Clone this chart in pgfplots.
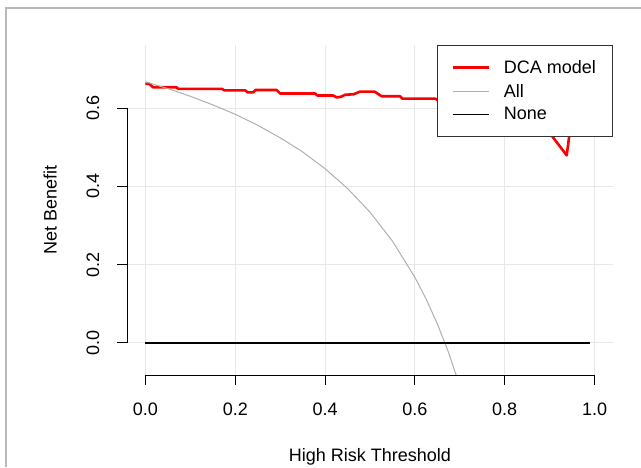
\documentclass[border=0pt]{standalone}
\usepackage{fontspec}
\setmainfont{Liberation Sans}
\usepackage{pgfplots}
\pgfplotsset{compat=1.18}
\definecolor{allgray}{RGB}{175,175,175}
\definecolor{gridgray}{RGB}{232,232,232}
\definecolor{framegray}{RGB}{185,185,185}
\definecolor{dcared}{RGB}{250,0,0}
\begin{document}
\begin{tikzpicture}
\useasboundingbox (0,0) rectangle (641pt,467pt);
\draw[framegray, line width=1.2pt] (6pt,0pt) -- (6pt,459pt) -- (641pt,459pt);
\begin{axis}[
  at={(127.5pt,92pt)}, anchor=south west,
  scale only axis, width=485pt, height=330pt,
  xmin=-0.04, xmax=1.04, ymin=-0.082, ymax=0.761,
  clip=false,
  axis x line*=bottom, axis y line*=left,
  axis line style={draw=none},
  tick align=outside, major tick length=10pt,
  tick style={draw=none},
  xtick={0,0.2,0.4,0.6,0.8,1.0},
  xticklabels={0.0,0.2,0.4,0.6,0.8,1.0},
  ytick={0,0.2,0.4,0.6},
  yticklabels={0.0,0.2,0.4,0.6},
  grid=major, grid style={draw=gridgray, line width=1pt},
  every tick label/.append style={font=\fontsize{18}{21}\selectfont, inner sep=0pt},
  xticklabel style={anchor=north, yshift=-18pt},
  yticklabel style={xshift=-18pt, rotate=90, anchor=south},
  xlabel={High Risk Threshold},
  ylabel={Net Benefit},
  every axis x label/.style={at={(axis description cs:0.5,-0.2606)}, anchor=base, font=\fontsize{18}{21}\selectfont},
  every axis y label/.style={at={(axis description cs:-0.146,0.5)}, rotate=90, anchor=base, font=\fontsize{18}{21}\selectfont},
  legend cell align=left,
  legend image code/.code={\draw[#1] (0pt,0pt) -- (36pt,0pt);},
  legend style={at={(rel axis cs:1,1)}, anchor=north east, draw=black!80, line width=1pt, fill=white,
    font=\fontsize{18}{21}\selectfont, inner xsep=14pt, inner ysep=13pt, row sep=5pt,
    /tikz/every odd column/.append style={column sep=12pt}},
]
\addplot[dcared, line width=2.6pt, line join=round] coordinates {
(0,0.662) (0.008,0.662) (0.017,0.653) (0.069,0.653) (0.073,0.649) (0.170,0.649)
(0.176,0.645) (0.222,0.645) (0.228,0.640) (0.240,0.640) (0.245,0.646) (0.292,0.646)
(0.300,0.637) (0.378,0.637) (0.383,0.632) (0.418,0.632) (0.426,0.627) (0.436,0.629)
(0.445,0.634) (0.463,0.635) (0.478,0.642) (0.510,0.642) (0.526,0.630) (0.567,0.630)
(0.572,0.624) (0.645,0.624) (0.652,0.619) (0.70,0.612) (0.75,0.605) (0.80,0.595)
(0.85,0.580) (0.88,0.560) (0.901,0.535) (0.938,0.479) (0.945,0.540) (0.95,0.580)
};
\addlegendentry{DCA model}
\addplot[allgray, line width=1pt] coordinates {
(0,0.667) (0.05,0.6495) (0.10,0.630) (0.15,0.608) (0.20,0.584) (0.25,0.556)
(0.30,0.524) (0.35,0.488) (0.40,0.445) (0.45,0.3945) (0.50,0.334) (0.55,0.260)
(0.60,0.1675) (0.625,0.112) (0.65,0.0486) (0.675,-0.0246) (0.6917,-0.082)
};
\addlegendentry{All}
\addplot[black, line width=1.3pt] coordinates {(0,0) (0.99,0)};
\addlegendentry{None}
\addplot[black, line width=1pt, forget plot] coordinates {(0,-0.1075) (0,-0.082)};
\addplot[black, line width=1pt, forget plot] coordinates {(0.2,-0.1075) (0.2,-0.082)};
\addplot[black, line width=1pt, forget plot] coordinates {(0.4,-0.1075) (0.4,-0.082)};
\addplot[black, line width=1pt, forget plot] coordinates {(0.6,-0.1075) (0.6,-0.082)};
\addplot[black, line width=1pt, forget plot] coordinates {(0.8,-0.1075) (0.8,-0.082)};
\addplot[black, line width=1pt, forget plot] coordinates {(1.0,-0.1075) (1.0,-0.082)};
\addplot[black, line width=1pt, forget plot] coordinates {(-0.0623,0) (-0.04,0)};
\addplot[black, line width=1pt, forget plot] coordinates {(-0.0623,0.2) (-0.04,0.2)};
\addplot[black, line width=1pt, forget plot] coordinates {(-0.0623,0.4) (-0.04,0.4)};
\addplot[black, line width=1pt, forget plot] coordinates {(-0.0623,0.6) (-0.04,0.6)};
\draw[black, line width=1pt, line cap=rect]
  (axis cs:0,-0.1075) -- (axis cs:0,-0.082) -- (axis cs:1,-0.082) -- (axis cs:1,-0.1075);
\draw[black, line width=1pt, line cap=rect]
  (axis cs:-0.0623,0) -- (axis cs:-0.04,0) -- (axis cs:-0.04,0.6) -- (axis cs:-0.0623,0.6);
\end{axis}
\end{tikzpicture}
\end{document}
